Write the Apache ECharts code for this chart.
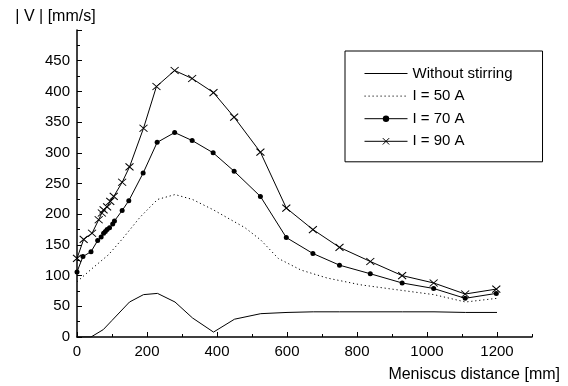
<!DOCTYPE html>
<html>
<head>
<meta charset="utf-8">
<script src="https://cdn.jsdelivr.net/npm/echarts@6/dist/echarts.min.js"></script>
<style>
html,body{margin:0;padding:0;background:#fff;}
#c{width:568px;height:386px;}
</style>
</head>
<body>
<div id="c"></div>
<script>
// ---- data ----
const seriesNames = ['Without stirring', 'I = 50 A', 'I = 70 A', 'I = 90 A'];
const xTickLabels = [0, 200, 400, 600, 800, 1000, 1200];
const yTickLabels = [0, 50, 100, 150, 200, 250, 300, 350, 400, 450];

const noStirX = [0, 40, 75, 100, 150, 190, 230, 280, 330, 390, 450, 525, 600, 675, 750, 840, 930, 1020, 1110, 1200];
const noStirY = [0, 0, 12, 27, 57, 69, 71, 57, 31, 8, 29, 38, 40, 41, 41, 41, 41, 41, 40, 40];

const i50X = [0, 40, 90, 130, 180, 230, 280, 330, 390, 430, 480, 525, 575, 640, 715, 810, 900, 1020, 1110, 1200];
const i50Y = [90, 110, 134, 160, 195, 224, 232, 224, 207, 194, 178, 158, 128, 109, 96, 85, 78, 69, 57, 63];

const i70X = [0, 17, 40, 59, 69, 76, 81, 86, 93, 102, 107, 129, 148, 189, 229, 279, 329, 389, 449, 524, 598, 674, 750, 838, 929, 1019, 1109, 1198];
const i70Y = [106, 131, 139, 157, 163, 169, 172, 175, 178, 184, 189, 206, 222, 267, 317, 333, 320, 300, 270, 229, 162, 136, 117, 103, 88, 79, 63, 71];

const i90X = [0, 19, 43, 62, 71, 76, 86, 95, 105, 129, 150, 190, 227, 279, 329, 390, 449, 524, 598, 674, 750, 838, 929, 1019, 1109, 1198];
const i90Y = [128, 159, 169, 191, 202, 207, 212, 221, 229, 252, 277, 340, 408, 434, 421, 398, 358, 301, 210, 175, 146, 123, 100, 88, 70, 78];

// ---- build ----
const pairs = (xs, ys) => xs.map((x, i) => [x, ys[i]]);
const FONT = 'Liberation Sans, Arial, Helvetica, sans-serif';
const crossPath = 'path://M0,0L10,10M10,0L0,10';

const chart = echarts.init(document.getElementById('c'), null, {renderer: 'canvas'});
chart.setOption({
  animation: false,
  backgroundColor: '#fff',
  textStyle: {fontFamily: FONT, color: '#000'},
  grid: {left: 77, right: 36, top: 30, bottom: 49, containLabel: false},
  legend: {
    orient: 'vertical',
    left: 345, top: 51,
    padding: [15, 30, 13, 19],
    itemWidth: 43, itemHeight: 8, itemGap: 7.6,
    borderColor: '#000', borderWidth: 1, backgroundColor: '#fff',
    textStyle: {fontFamily: FONT, fontSize: 15, color: '#000'},
    lineStyle: {width: 1},
    data: [
      {name: seriesNames[0], itemStyle: {opacity: 0}},
      {name: seriesNames[1], itemStyle: {opacity: 0}},
      {name: seriesNames[2]},
      {name: seriesNames[3], itemStyle: {borderWidth: 1}}
    ]
  },
  xAxis: [{
    type: 'value', position: 'bottom', min: 0, max: 1300, interval: 200,
    name: 'Meniscus distance [mm]', nameLocation: 'end', nameGap: 28,
    nameTextStyle: {fontFamily: FONT, fontSize: 16, color: '#000', align: 'right', verticalAlign: 'top', padding: [30, 0, 0, 0]},
    axisLine: {show: true, onZero: false, lineStyle: {color: '#000', width: 1.5}},
    axisTick: {show: true, inside: true, length: 5, lineStyle: {color: '#000', width: 1}, customValues: xTickLabels},
    axisLabel: {fontFamily: FONT, fontSize: 15, color: '#000', margin: 7, customValues: xTickLabels,
      formatter: v => (xTickLabels.indexOf(v) >= 0 ? String(v) : '')},
    splitLine: {show: false}
  }, {
    type: 'value', position: 'bottom', min: 0, max: 1300, interval: 100,
    axisLine: {show: false, onZero: false},
    axisTick: {show: true, inside: true, length: 3, lineStyle: {color: '#000', width: 1}},
    axisLabel: {show: false},
    splitLine: {show: false}
  }],
  yAxis: {
    type: 'value', min: 0, max: 500, interval: 50,
    name: '| V | [mm/s]', nameLocation: 'end', nameGap: 5,
    nameTextStyle: {fontFamily: FONT, fontSize: 16, color: '#000', align: 'center', padding: [0, 43, 0, 0]},
    axisLine: {show: true, onZero: false, lineStyle: {color: '#000', width: 1.5}},
    axisTick: {show: true, inside: true, length: 5, lineStyle: {color: '#000', width: 1}},
    minorTick: {show: true, splitNumber: 2, length: 3, lineStyle: {color: '#000', width: 1}},
    axisLabel: {fontFamily: FONT, fontSize: 15, color: '#000', margin: 7,
      formatter: v => (yTickLabels.indexOf(v) >= 0 ? String(v) : '')},
    splitLine: {show: false}
  },
  series: [{
    name: seriesNames[0], type: 'line', data: pairs(noStirX, noStirY),
    symbol: 'none',
    lineStyle: {color: '#000', width: 1},
    itemStyle: {color: '#000'}
  }, {
    name: seriesNames[1], type: 'line', data: pairs(i50X, i50Y),
    symbol: 'none',
    lineStyle: {color: '#000', width: 1, type: [1.2, 2.8]},
    itemStyle: {color: '#000'}
  }, {
    name: seriesNames[2], type: 'line', data: pairs(i70X, i70Y),
    symbol: 'circle', symbolSize: 5,
    lineStyle: {color: '#000', width: 1},
    itemStyle: {color: '#000'}
  }, {
    name: seriesNames[3], type: 'line', data: pairs(i90X, i90Y),
    symbol: crossPath, symbolSize: [8, 7],
    lineStyle: {color: '#000', width: 1},
    itemStyle: {color: 'transparent', borderColor: '#000', borderWidth: 1}
  }]
});
</script>
</body>
</html>
